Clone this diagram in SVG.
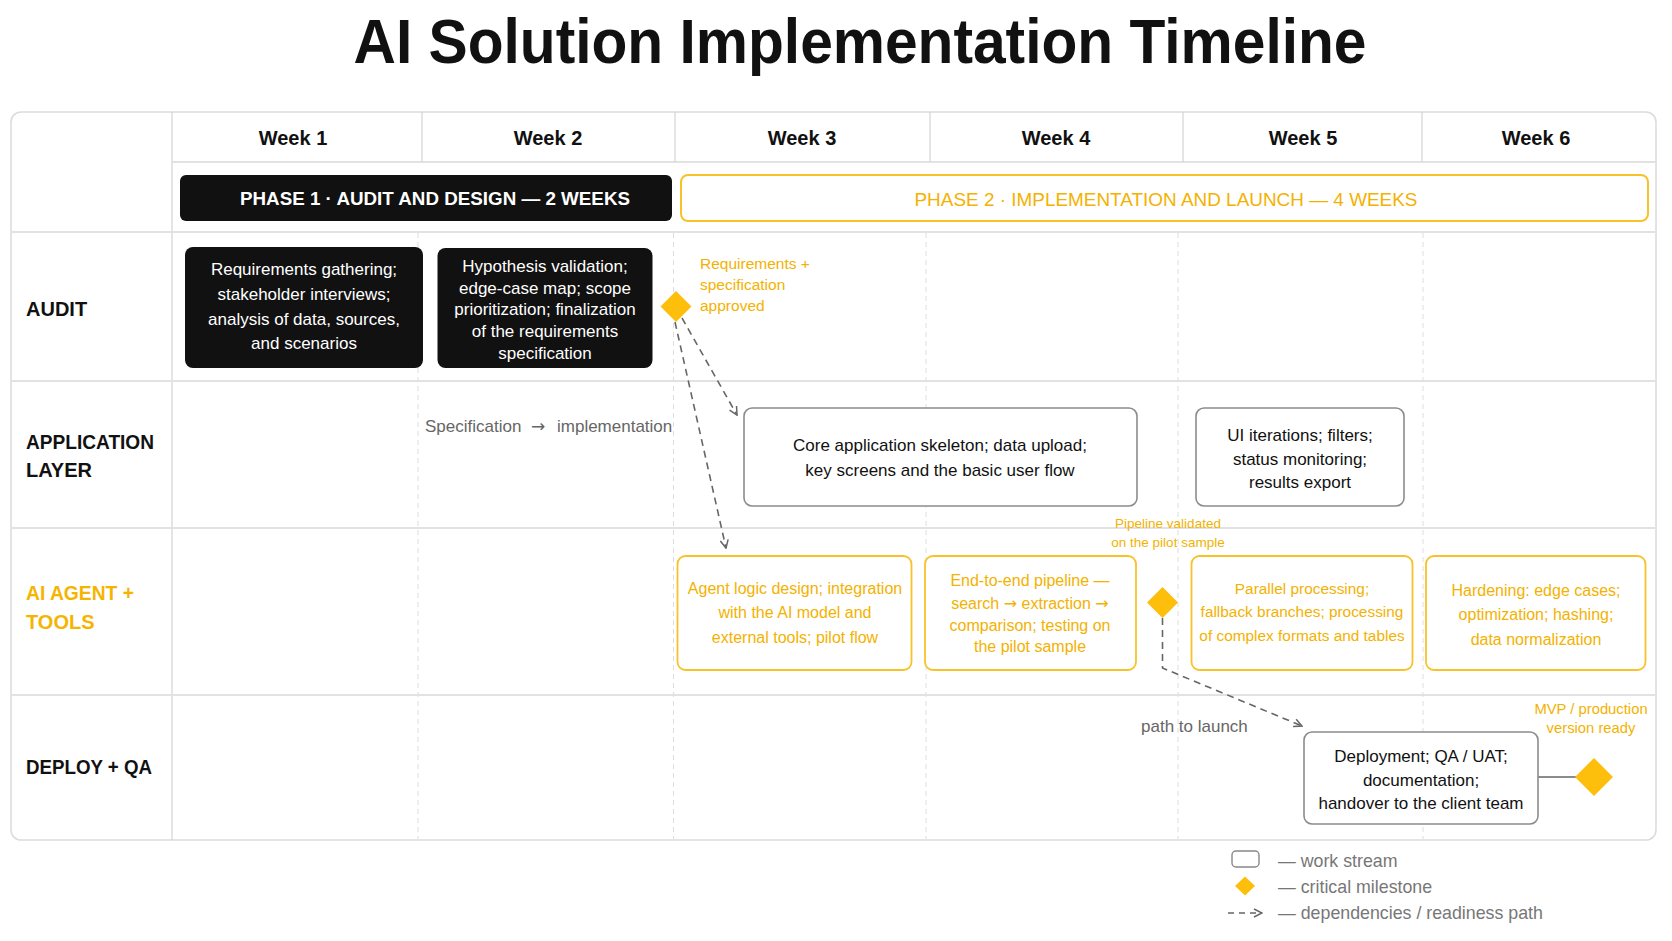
<svg xmlns="http://www.w3.org/2000/svg" width="1672" height="941" viewBox="0 0 1672 941">
<defs>
<style>
text{font-family:"Liberation Sans",Arial,sans-serif;}
.title{font-size:63px;font-weight:bold;fill:#111;text-anchor:middle;}
.week{font-size:20px;font-weight:bold;fill:#111;text-anchor:middle;}
.lane{font-size:20px;font-weight:bold;fill:#111;}
.laney{font-size:20px;font-weight:bold;fill:#F5B400;}
.bw{font-size:17px;fill:#fff;text-anchor:middle;}
.bk{font-size:17px;fill:#111;text-anchor:middle;}
.by{font-size:16px;fill:#F3B200;text-anchor:middle;}
.by15{font-size:15.4px;fill:#F3B200;text-anchor:middle;}
.note{font-size:15.5px;fill:#F3B200;}
.small{font-size:13.5px;fill:#F3B200;text-anchor:middle;}
.mvp{font-size:14.8px;fill:#F3B200;text-anchor:middle;}
.gray{font-size:17px;fill:#666;}
.leg{font-size:17.8px;fill:#777;}
.arr{font-family:"DejaVu Sans",sans-serif;}
.grid{stroke:#e2e2e2;stroke-width:2;fill:none;}
.sep{stroke:#d4d4d4;stroke-width:1.2;}
.vd{stroke:#dedede;stroke-width:1;stroke-dasharray:5 4;}
.blk{fill:#111;}
.wbox{fill:#fff;stroke:#8c8c8c;stroke-width:1.6;}
.ybox{fill:#fff;stroke:#F8C22A;stroke-width:1.8;}
.dia{fill:#FDBE0C;}
.dep{stroke:#666;stroke-width:1.6;fill:none;stroke-dasharray:7 5;marker-end:url(#chev);}
</style>
<marker id="chev" viewBox="0 0 10 10" refX="9" refY="5" markerWidth="10" markerHeight="10" markerUnits="userSpaceOnUse" orient="auto">
<path d="M1,1 L9,5 L1,9" fill="none" stroke="#666" stroke-width="1.5"/>
</marker>
</defs>
<rect width="1672" height="941" fill="#fff"/>

<g id="title">
<text class="title" x="860" y="63" textLength="1013" lengthAdjust="spacingAndGlyphs">AI Solution Implementation Timeline</text>
</g>

<g id="grid">
<rect x="11" y="112" width="1645" height="728" rx="10" fill="#fff" stroke="#dcdcdc" stroke-width="1.6"/>
<line class="sep" x1="172" y1="112" x2="172" y2="840"/>
<line class="grid" x1="172" y1="162" x2="1656" y2="162"/>
<line class="grid" x1="11" y1="232" x2="1656" y2="232"/>
<line class="grid" x1="11" y1="381" x2="1656" y2="381"/>
<line class="grid" x1="11" y1="528" x2="1656" y2="528"/>
<line class="grid" x1="11" y1="695" x2="1656" y2="695"/>
<line class="sep" x1="422" y1="112" x2="422" y2="162"/>
<line class="sep" x1="675" y1="112" x2="675" y2="162"/>
<line class="sep" x1="930" y1="112" x2="930" y2="162"/>
<line class="sep" x1="1183" y1="112" x2="1183" y2="162"/>
<line class="sep" x1="1422" y1="112" x2="1422" y2="162"/>
<line class="vd" x1="418" y1="233" x2="418" y2="839"/>
<line class="vd" x1="673.5" y1="233" x2="673.5" y2="839"/>
<line class="vd" x1="926" y1="233" x2="926" y2="839"/>
<line class="vd" x1="1178" y1="233" x2="1178" y2="839"/>
<line class="vd" x1="1423" y1="233" x2="1423" y2="839"/>
</g>

<g id="weeks">
<text class="week" x="293" y="145">Week 1</text>
<text class="week" x="548" y="145">Week 2</text>
<text class="week" x="802" y="145">Week 3</text>
<text class="week" x="1056" y="145">Week 4</text>
<text class="week" x="1303" y="145">Week 5</text>
<text class="week" x="1536" y="145">Week 6</text>
</g>

<g id="phase1">
<rect class="blk" x="180" y="175" width="492" height="46" rx="6"/>
<text x="435" y="205" font-size="19" font-weight="bold" fill="#fff" text-anchor="middle" textLength="390" lengthAdjust="spacingAndGlyphs">PHASE 1  ·  AUDIT AND DESIGN — 2 WEEKS</text>
</g>
<g id="phase2">
<rect x="681" y="175" width="967" height="46" rx="7" fill="#fff" stroke="#F8C22A" stroke-width="2"/>
<text x="1166" y="206" font-size="19" fill="#F3B200" text-anchor="middle" textLength="503" lengthAdjust="spacingAndGlyphs">PHASE 2 · IMPLEMENTATION AND LAUNCH — 4 WEEKS</text>
</g>

<g id="lanes">
<text class="lane" x="26" y="316">AUDIT</text>
<text class="lane" x="26" y="449" textLength="128" lengthAdjust="spacingAndGlyphs">APPLICATION</text>
<text class="lane" x="26" y="477">LAYER</text>
<text class="laney" x="26" y="600" textLength="108" lengthAdjust="spacingAndGlyphs">AI AGENT +</text>
<text class="laney" x="26" y="629">TOOLS</text>
<text class="lane" x="26" y="774" textLength="126" lengthAdjust="spacingAndGlyphs">DEPLOY + QA</text>
</g>

<g id="connectors">
<line class="dep" x1="682" y1="318" x2="737" y2="415"/>
<line class="dep" x1="675" y1="322" x2="726" y2="548"/>
<path class="dep" d="M1162.5,618 L1162.5,668 L1302,726"/>
<line x1="1538" y1="777" x2="1576" y2="777" stroke="#666" stroke-width="1.6"/>
<text class="gray" x="425" y="432">Specification<tspan class="arr" x="531">→</tspan><tspan x="557">implementation</tspan></text>
<text class="gray" x="1141" y="732">path to launch</text>
</g>

<g id="req-gathering">
<rect class="blk" x="185" y="247" width="238" height="121" rx="8"/>
<text class="bw" x="304" y="275">Requirements gathering;</text>
<text class="bw" x="304" y="299.5">stakeholder interviews;</text>
<text class="bw" x="304" y="324.5">analysis of data, sources,</text>
<text class="bw" x="304" y="349">and scenarios</text>
</g>

<g id="hypothesis">
<rect class="blk" x="437.5" y="248" width="215" height="120" rx="8"/>
<text class="bw" x="545" y="271.5">Hypothesis validation;</text>
<text class="bw" x="545" y="293.5">edge-case map; scope</text>
<text class="bw" x="545" y="315">prioritization; finalization</text>
<text class="bw" x="545" y="336.5">of the requirements</text>
<text class="bw" x="545" y="358.5">specification</text>
</g>

<g id="milestone-spec">
<polygon class="dia" points="676,291 691.5,306.5 676,322 660.5,306.5"/>
<text class="note" x="700" y="269">Requirements +</text>
<text class="note" x="700" y="290">specification</text>
<text class="note" x="700" y="311">approved</text>
</g>

<g id="app-skeleton">
<rect class="wbox" x="744" y="408" width="393" height="98" rx="8"/>
<text class="bk" x="940" y="451">Core application skeleton; data upload;</text>
<text class="bk" x="940" y="476">key screens and the basic user flow</text>
</g>

<g id="ui-iterations">
<rect class="wbox" x="1196" y="408" width="208" height="98" rx="8"/>
<text class="bk" x="1300" y="441">UI iterations; filters;</text>
<text class="bk" x="1300" y="465">status monitoring;</text>
<text class="bk" x="1300" y="488">results export</text>
</g>

<g id="agent-logic">
<rect class="ybox" x="677.5" y="556" width="234" height="114" rx="8"/>
<text class="by" x="795" y="593.5">Agent logic design; integration</text>
<text class="by" x="795" y="618">with the AI model and</text>
<text class="by" x="795" y="642.5">external tools; pilot flow</text>
</g>

<g id="pipeline">
<rect class="ybox" x="925" y="556" width="211" height="114" rx="8"/>
<text class="by" x="1030" y="586">End-to-end pipeline —</text>
<text class="by" x="1030" y="608.5">search <tspan class="arr">→</tspan> extraction <tspan class="arr">→</tspan></text>
<text class="by" x="1030" y="631">comparison; testing on</text>
<text class="by" x="1030" y="652">the pilot sample</text>
</g>

<g id="milestone-pipeline">
<polygon class="dia" points="1162.5,587 1178,602.5 1162.5,618 1147,602.5"/>
<text class="small" x="1168" y="528">Pipeline validated</text>
<text class="small" x="1168" y="546.5">on the pilot sample</text>
</g>

<g id="parallel">
<rect class="ybox" x="1191.5" y="556" width="221" height="114" rx="8"/>
<text class="by15" x="1302" y="593.5">Parallel processing;</text>
<text class="by15" x="1302" y="617">fallback branches; processing</text>
<text class="by15" x="1302" y="640.5">of complex formats and tables</text>
</g>

<g id="hardening">
<rect class="ybox" x="1426" y="556" width="219.5" height="114" rx="8"/>
<text class="by" x="1536" y="595.5">Hardening: edge cases;</text>
<text class="by" x="1536" y="620">optimization; hashing;</text>
<text class="by" x="1536" y="644.5">data normalization</text>
</g>

<g id="deployment">
<rect class="wbox" x="1304" y="732" width="234" height="92" rx="8"/>
<text class="bk" x="1421" y="762">Deployment; QA / UAT;</text>
<text class="bk" x="1421" y="785.5">documentation;</text>
<text class="bk" x="1421" y="809">handover to the client team</text>
</g>

<g id="milestone-mvp">
<polygon class="dia" points="1594,758 1613,777 1594,796 1575,777"/>
<text class="mvp" x="1591" y="714">MVP / production</text>
<text class="mvp" x="1591" y="733">version ready</text>
</g>

<g id="legend">
<rect x="1232" y="851" width="27" height="16" rx="4" fill="#fff" stroke="#888" stroke-width="1.4"/>
<text class="leg" x="1278" y="867">— work stream</text>
<polygon class="dia" points="1245,876.5 1255,886 1245,895.5 1235,886"/>
<text class="leg" x="1278" y="893">— critical milestone</text>
<line class="dep" x1="1228" y1="913" x2="1262" y2="913" style="stroke-dasharray:6 5"/>
<text class="leg" x="1278" y="919">— dependencies / readiness path</text>
</g>
</svg>
